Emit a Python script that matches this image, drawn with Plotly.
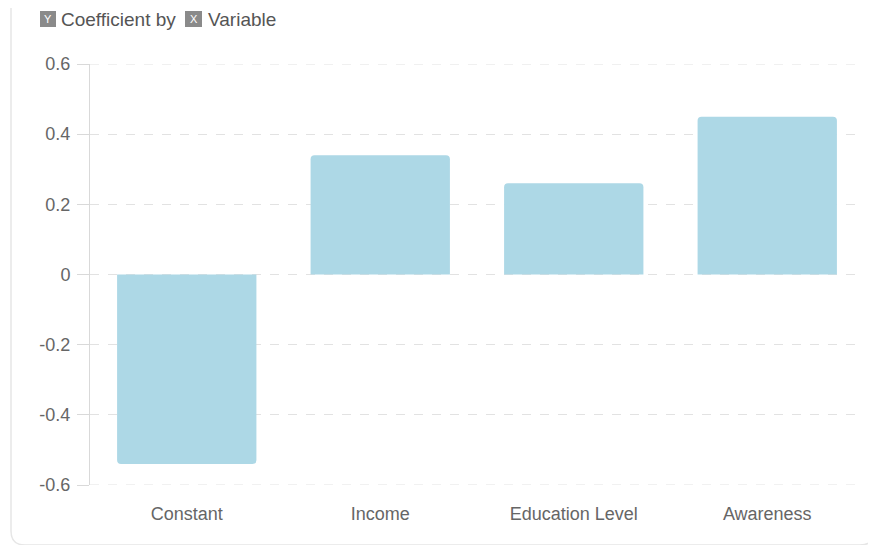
import plotly.graph_objects as go

categories = ["Constant", "Income", "Education Level", "Awareness"]
coefficients = [-0.54, 0.34, 0.26, 0.45]
y_ticks = [-0.6, -0.4, -0.2, 0, 0.2, 0.4, 0.6]
y_tick_labels = ["-0.6", "-0.4", "-0.2", "0", "0.2", "0.4", "0.6"]

# the page places the figure 8px from the top-left corner
OFF = 8
W, H = 876 - OFF, 545 - OFF
ML, MR, MT, MB = 90 - OFF, W - (864 - OFF), 64 - OFF, H - (485 - OFF)
PW, PH = W - ML - MR, H - MT - MB

def px(x):  # page pixel -> paper
    return (x - OFF - ML) / PW

def py(y):
    return (H - MB - (y - OFF)) / PH

fig = go.Figure(go.Bar(
    x=categories, y=coefficients,
    marker=dict(color="#ADD8E6", cornerradius=4, line=dict(width=0)),
    hoverinfo="x+y",
))

# card border (left + bottom with rounded corner)
r = 14
x0, y1, x1 = 11, 545, 874
path = (f"M {px(x0)},{py(-20)} L {px(x0)},{py(y1 - r)} "
        f"Q {px(x0)},{py(y1)} {px(x0 + r)},{py(y1)} "
        f"L {px(x1 - r)},{py(y1)} Q {px(x1)},{py(y1)} {px(x1)},{py(y1 - r)} "
        f"L {px(x1)},{py(-20)}")
shapes = [dict(type="path", xref="paper", yref="paper", path=path,
               line=dict(color="#e6e6e6", width=1.5), layer="below")]

# dashed grid lines at the range edges
for v in (y_ticks[0], y_ticks[-1]):
    shapes.append(dict(type="line", xref="paper", yref="y", x0=0, x1=1, y0=v, y1=v,
                       line=dict(color="#e2e2e2", width=1, dash="dash"), layer="below"))

# title icons
for (a, b) in [(40, 56), (185, 202)]:
    shapes.append(dict(type="rect", xref="paper", yref="paper",
                       x0=px(a), x1=px(b), y0=py(27), y1=py(11),
                       fillcolor="#8a8a8a", line=dict(width=0)))

annotations = [
    dict(text="Y", x=px(48), y=py(19), xref="paper", yref="paper", showarrow=False,
         font=dict(size=11, color="white", family="Liberation Sans"), xanchor="center", yanchor="middle"),
    dict(text="X", x=px(193.5), y=py(19), xref="paper", yref="paper", showarrow=False,
         font=dict(size=11, color="white", family="Liberation Sans"), xanchor="center", yanchor="middle"),
    dict(text="Coefficient by", x=px(59), y=py(19), xref="paper", yref="paper", showarrow=False,
         font=dict(size=19, color="#555555", family="Liberation Sans"), xanchor="left", yanchor="middle"),
    dict(text="Variable", x=px(206), y=py(19), xref="paper", yref="paper", showarrow=False,
         font=dict(size=19, color="#555555", family="Liberation Sans"), xanchor="left", yanchor="middle"),
]

fig.update_layout(
    width=W, height=H,
    margin=dict(l=ML, r=MR, t=MT, b=MB),
    paper_bgcolor="white", plot_bgcolor="white",
    bargap=0.28,
    showlegend=False,
    font=dict(family="Liberation Sans, Arial, sans-serif", size=18, color="#666666"),
    shapes=shapes,
    annotations=annotations,
)
fig.update_yaxes(
    range=[-0.6, 0.6], tickvals=y_ticks, ticktext=y_tick_labels,
    showgrid=True, gridcolor="#e2e2e2", griddash="dash", gridwidth=1,
    zeroline=False, showline=True, linecolor="#d9d9d9", linewidth=1,
    ticks="outside", ticklen=12, tickcolor="#d9d9d9", ticklabelstandoff=3,
    tickfont=dict(size=18, color="#666666"),
)
fig.update_xaxes(
    showgrid=False, showline=False, ticks="", ticklabelstandoff=16,
    tickfont=dict(size=18, color="#666666"),
)

fig.write_html("out.html")
